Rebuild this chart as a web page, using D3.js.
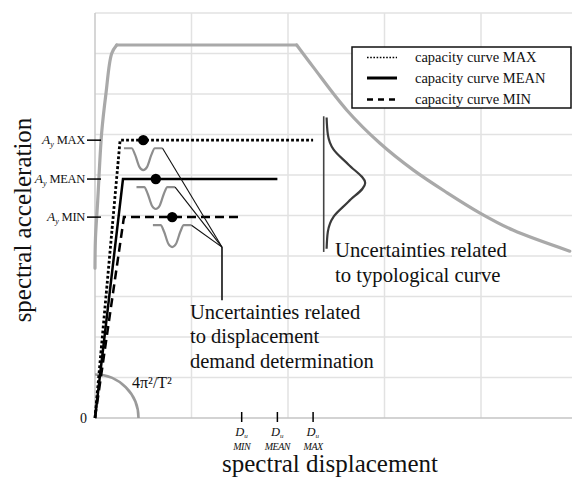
<!DOCTYPE html>
<html>
<head>
<meta charset="utf-8">
<script src="https://cdn.jsdelivr.net/npm/d3@7/dist/d3.min.js"></script>
<style>
  html, body { margin: 0; padding: 0; background: #fff; }
  svg { display: block; }
  text, tspan { font-family: "Liberation Serif", "Times New Roman", serif; fill: #111; }
</style>
</head>
<body>
<svg id="chart" width="572" height="479"></svg>
<script>
// ---------------- data (axis units: 1 grid cell = 1 unit) ----------------
const gridX = [0, 1, 2, 3, 4, 5];
const gridY = [0, 1, 2, 3, 4, 5, 6, 7, 8, 9, 10];

// elastic demand spectrum (ADRS)
const spectrumRise = [[0, 3.70], [0.005, 4.44], [0.028, 5.36], [0.069, 7.04], [0.114, 8.02], [0.173, 9.0], [0.225, 9.21]];
const spectrumPlateau = [[0.225, 9.21], [2.09, 9.21]];
const spectrumDecay = [[2.09, 9.21], [2.26, 8.67], [2.61, 7.60], [2.95, 6.79], [3.30, 6.12], [3.65, 5.56], [3.99, 5.06], [4.33, 4.64], [4.92, 4.12]];

// capacity curves
const curveNames = ["MAX", "MEAN", "MIN"];
const curveYieldDisp = [0.26, 0.29, 0.30];    // Dy
const curveYieldAcc = [6.86, 5.90, 4.96];     // Ay
const curveUltDisp = [2.26, 1.89, 1.52];      // Du
const performancePointX = [0.50, 0.63, 0.80]; // black dots

// displacement-demand pdf glyph profile (relative x, relative depth)
const demandPdfProfile = [[-1, 0], [-0.6, 0], [-0.42, 0.3], [-0.2, 0.85], [0, 1], [0.2, 0.85], [0.42, 0.3], [0.6, 0], [1, 0]];
// typological curve pdf profile (relative y, relative amplitude)
const typoPdfProfile = [[-1, 0.07], [-0.74, 0.1], [-0.51, 0.24], [-0.28, 0.6], [0, 1], [0.28, 0.6], [0.51, 0.24], [0.74, 0.1], [1, 0.07]];
const typoPdfX = 2.37, typoPdfCenter = 5.80, typoPdfHalf = 1.62, typoPdfAmp = 0.43;
const leaderJoin = [1.316, 4.22], leaderEnd = [1.316, 2.91];

const legendLabels = ["capacity curve MAX", "capacity curve MEAN", "capacity curve MIN"];

// ---------------- drawing ----------------
const svg = d3.select("#chart");
const x = d3.scaleLinear().domain([0, 5]).range([95, 577.5]);
const y = d3.scaleLinear().domain([0, 10]).range([418, 13]);
const FONT = '"Liberation Serif", "Times New Roman", serif';

const styles = {
  MAX: { w: 2.8, dash: "2.8,2.2" },
  MEAN: { w: 2.5, dash: null },
  MIN: { w: 2.5, dash: "9,5" }
};

// grid
const g = svg.append("g");
g.selectAll("line.gy").data(gridY.slice(1)).join("line")
  .attr("x1", x(0)).attr("x2", 572).attr("y1", d => y(d)).attr("y2", d => y(d))
  .attr("stroke", "#e2e2e2").attr("stroke-width", 1.5);
g.selectAll("line.gx").data(gridX.slice(1)).join("line")
  .attr("x1", d => x(d)).attr("x2", d => x(d)).attr("y1", y(0)).attr("y2", y(10))
  .attr("stroke", "#e2e2e2").attr("stroke-width", 1.5);
// axes lines
g.append("line").attr("x1", x(0)).attr("x2", 572).attr("y1", y(0)).attr("y2", y(0))
  .attr("stroke", "#c4c4c4").attr("stroke-width", 1.5);
g.append("line").attr("x1", x(0)).attr("x2", x(0)).attr("y1", y(0)).attr("y2", y(10))
  .attr("stroke", "#c8c8c8").attr("stroke-width", 1.5);

// spectrum
const lineCR = d3.line().x(d => x(d[0])).y(d => y(d[1])).curve(d3.curveCatmullRom.alpha(0.5));
const lineMX = d3.line().x(d => x(d[0])).y(d => y(d[1])).curve(d3.curveMonotoneX);
const lineMY = d3.line().x(d => x(d[0])).y(d => y(d[1])).curve(d3.curveMonotoneY);
const lineL = d3.line().x(d => x(d[0])).y(d => y(d[1]));
[[spectrumRise, lineCR], [spectrumPlateau, lineL], [spectrumDecay, lineCR]].forEach(([pts, gen]) => {
  svg.append("path").attr("d", gen(pts)).attr("fill", "none")
    .attr("stroke", "#a9a9a9").attr("stroke-width", 3.2).attr("stroke-linejoin", "round").attr("stroke-linecap", "round");
});

// 4π²/T² arc
const arc = d3.arc().innerRadius(43.5).outerRadius(43.5).startAngle(0).endAngle(Math.PI / 2);
svg.append("path").attr("d", arc()).attr("transform", `translate(${x(0)},${y(0)})`)
  .attr("fill", "none").attr("stroke", "#9a9a9a").attr("stroke-width", 2.6);

// capacity curves
curveNames.forEach((n, i) => {
  const pts = [[0, 0], [curveYieldDisp[i], curveYieldAcc[i]], [curveUltDisp[i], curveYieldAcc[i]]];
  const p = svg.append("path").attr("d", lineL(pts)).attr("fill", "none")
    .attr("stroke", "#000").attr("stroke-width", styles[n].w);
  if (styles[n].dash) p.attr("stroke-dasharray", styles[n].dash);
});

// demand pdf glyphs + leaders
const pdfHalfW = 0.2, pdfDepth = 0.54, pdfGap = 0.2;
curveNames.forEach((n, i) => {
  const cx = performancePointX[i], top = curveYieldAcc[i] - pdfGap;
  const pts = demandPdfProfile.map(p => [cx + p[0] * pdfHalfW, top - p[1] * pdfDepth]);
  svg.append("path").attr("d", lineMX(pts)).attr("fill", "none")
    .attr("stroke", "#8e8e8e").attr("stroke-width", 2.2);
  svg.append("line")
    .attr("x1", x(cx + pdfHalfW)).attr("y1", y(top))
    .attr("x2", x(leaderJoin[0])).attr("y2", y(leaderJoin[1]))
    .attr("stroke", "#111").attr("stroke-width", 1.1);
});
svg.append("line").attr("x1", x(leaderJoin[0])).attr("x2", x(leaderEnd[0]))
  .attr("y1", y(leaderJoin[1])).attr("y2", y(leaderEnd[1]))
  .attr("stroke", "#111").attr("stroke-width", 1.6);

// dots
svg.selectAll("circle.pp").data(curveNames).join("circle")
  .attr("cx", (d, i) => x(performancePointX[i])).attr("cy", (d, i) => y(curveYieldAcc[i]))
  .attr("r", 5.2).attr("fill", "#000");

// typological pdf
svg.append("line").attr("x1", x(typoPdfX)).attr("x2", x(typoPdfX))
  .attr("y1", y(typoPdfCenter + typoPdfHalf + 0.03)).attr("y2", y(typoPdfCenter - typoPdfHalf - 0.08))
  .attr("stroke", "#444").attr("stroke-width", 1.6);
const typoPts = typoPdfProfile.map(p => [typoPdfX + p[1] * typoPdfAmp, typoPdfCenter - p[0] * typoPdfHalf]);
svg.append("path").attr("d", lineMY(typoPts)).attr("fill", "none")
  .attr("stroke", "#3a3a3a").attr("stroke-width", 2.2);

// Ay ticks and labels
curveNames.forEach((n, i) => {
  const yy = y(curveYieldAcc[i]);
  svg.append("line").attr("x1", 87).attr("x2", 101).attr("y1", yy).attr("y2", yy)
    .attr("stroke", "#000").attr("stroke-width", 1.5);
  const t = svg.append("text").attr("x", 85).attr("y", yy + 4).attr("text-anchor", "end")
    .style("font-family", FONT).style("font-size", "12.5px");
  t.append("tspan").text("A").style("font-style", "italic").style("font-size", "13.5px");
  t.append("tspan").text("y").style("font-style", "italic").style("font-size", "8px").attr("dy", 3);
  t.append("tspan").text("\u00a0" + n).attr("dy", -3).attr("letter-spacing", "-0.3");
});

// Du ticks and labels
curveNames.forEach((n, i) => {
  const xx = x(curveUltDisp[i]);
  svg.append("line").attr("x1", xx).attr("x2", xx).attr("y1", 412).attr("y2", 422)
    .attr("stroke", "#000").attr("stroke-width", 1.5);
  const t = svg.append("text").style("font-family", FONT).style("font-style", "italic");
  t.append("tspan").attr("x", xx - 6.5).attr("y", 436).style("font-size", "12.5px").text("D");
  t.append("tspan").attr("dy", 2).style("font-size", "7px").text("u");
  svg.append("text").attr("x", xx).attr("y", 449.5).attr("text-anchor", "middle")
    .style("font-family", FONT).style("font-style", "italic")
    .style("font-size", "10px").attr("letter-spacing", "-0.5").text(n);
});

// 0 label and slope label
svg.append("text").attr("x", 87).attr("y", 423).attr("text-anchor", "end")
  .style("font-family", FONT).style("font-size", "14px").text("0");
svg.append("text").attr("x", 132).attr("y", 388)
  .style("font-family", FONT).style("font-size", "16px").text("4π²/T²");

// annotations
const ann1 = svg.append("text").style("font-family", FONT).style("font-size", "20.5px");
["Uncertainties related", "to displacement", "demand determination"].forEach((s, i) =>
  ann1.append("tspan").attr("x", 190).attr("y", 319 + i * 24.3).text(s));
const ann2 = svg.append("text").style("font-family", FONT).style("font-size", "20.7px");
["Uncertainties related", "to typological curve"].forEach((s, i) =>
  ann2.append("tspan").attr("x", 335).attr("y", 257 + i * 25).text(s));

// axis titles
svg.append("text").attr("x", 330).attr("y", 472).attr("text-anchor", "middle")
  .style("font-family", FONT).style("font-size", "25px").text("spectral displacement");
svg.append("text").attr("transform", "translate(31,220) rotate(-90)").attr("text-anchor", "middle")
  .style("font-family", FONT).style("font-size", "25px").text("spectral acceleration");

// legend
const lg = svg.append("g");
lg.append("rect").attr("x", 352).attr("y", 47).attr("width", 219).attr("height", 61)
  .attr("fill", "#fff").attr("stroke", "#111").attr("stroke-width", 1.5);
const legStyle = [{ w: 1.6, dash: "1.6,1.6" }, { w: 3, dash: null }, { w: 2.6, dash: "6,5" }];
legendLabels.forEach((s, i) => {
  const yy = [57.5, 78, 99.5][i];
  const l = lg.append("line").attr("x1", 367).attr("x2", 397).attr("y1", yy).attr("y2", yy)
    .attr("stroke", "#000").attr("stroke-width", legStyle[i].w);
  if (legStyle[i].dash) l.attr("stroke-dasharray", legStyle[i].dash);
  lg.append("text").attr("x", 415).attr("y", [62, 82.5, 103.5][i])
    .style("font-family", FONT).style("font-size", "14.5px").text(s);
});
</script>
</body>
</html>
